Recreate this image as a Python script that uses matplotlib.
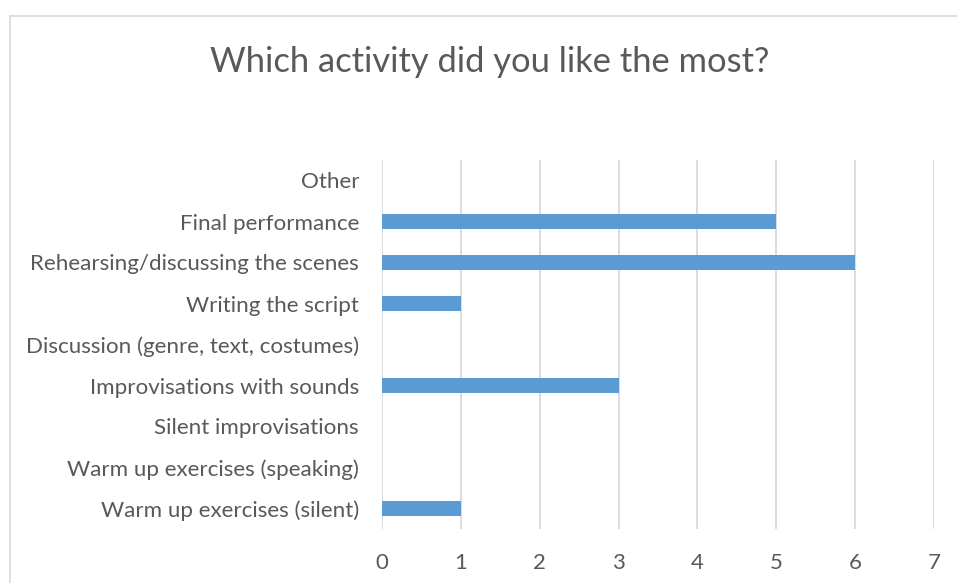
import matplotlib
matplotlib.use("Agg")
import matplotlib.pyplot as plt
from matplotlib.lines import Line2D

categories = [
    "Warm up exercises (silent)",
    "Warm up exercises (speaking)",
    "Silent improvisations",
    "Improvisations with sounds",
    "Discussion (genre, text, costumes)",
    "Writing the script",
    "Rehearsing/discussing the scenes",
    "Final performance",
    "Other",
]
counts = [1, 0, 0, 3, 0, 1, 6, 5, 0]
x_ticks = [0, 1, 2, 3, 4, 5, 6, 7]

W, H = 957, 583
fig = plt.figure(figsize=(W / 100, H / 100), dpi=100)
fig.patch.set_facecolor("white")

text_color = "#595959"
grid_color = "#D9D9D9"
font = ["Lato", "DejaVu Sans"]

# chart area frame (top and left edges)
fig.add_artist(Line2D([9.5 / W, 9.5 / W], [0, 1 - 15.5 / H], transform=fig.transFigure,
                      color=grid_color, lw=1.2))
fig.add_artist(Line2D([9.5 / W, 1], [1 - 15.5 / H, 1 - 15.5 / H], transform=fig.transFigure,
                      color=grid_color, lw=1.2))

ax = fig.add_axes([382 / W, 1 - 529 / H, (934 - 382) / W, (529 - 160) / H])
y = range(len(categories))
ax.barh(y, counts, height=0.36, color="#5B9BD5", zorder=3)

ax.set_xlim(0, 7)
ax.set_ylim(-0.5, len(categories) - 0.5)
ax.set_xticks(x_ticks)
ax.set_xticklabels([str(t) for t in x_ticks], fontsize=16, color=text_color, family=font)
ax.set_yticks(list(y))
ax.set_yticklabels(categories, fontsize=16.1, color=text_color, family=font)
ax.tick_params(axis="both", length=0)
ax.tick_params(axis="x", pad=17)
ax.tick_params(axis="y", pad=16.5)

ax.grid(axis="x", color=grid_color, lw=1.3, zorder=0)
for s in ax.spines.values():
    s.set_visible(False)

fig.text(490 / W, 1 - 62 / H, "Which activity did you like the most?", ha="center", va="center",
         fontsize=24.8, color=text_color, family=font)

fig.savefig("out.png", dpi=100, facecolor="white")
